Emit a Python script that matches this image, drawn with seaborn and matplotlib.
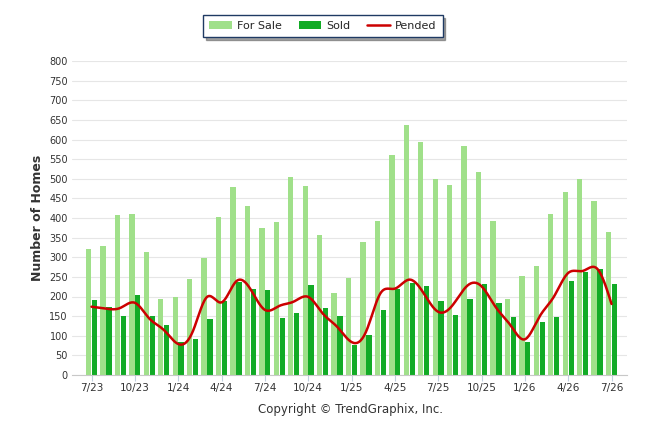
import numpy as np
import pandas as pd
import matplotlib
matplotlib.use("Agg")
import matplotlib.pyplot as plt
import seaborn as sns
from matplotlib.patches import Patch
from matplotlib.lines import Line2D

months = ["7/23", "8/23", "9/23", "10/23", "11/23", "12/23",
          "1/24", "2/24", "3/24", "4/24", "5/24", "6/24",
          "7/24", "8/24", "9/24", "10/24", "11/24", "12/24",
          "1/25", "2/25", "3/25", "4/25", "5/25", "6/25",
          "7/25", "8/25", "9/25", "10/25", "11/25", "12/25",
          "1/26", "2/26", "3/26", "4/26", "5/26", "6/26", "7/26"]

for_sale = [321, 329, 408, 411, 314, 194, 199, 245, 299, 403, 479, 431,
            374, 389, 504, 481, 356, 209, 247, 338, 392, 560, 636, 593,
            499, 483, 584, 517, 392, 193, 252, 277, 410, 466, 499, 443, 364]

sold = [191, 173, 150, 204, 150, 127, 84, 92, 142, 188, 237, 220,
        216, 146, 158, 229, 171, 150, 76, 102, 165, 219, 234, 226,
        188, 153, 193, 232, 183, 148, 84, 135, 148, 239, 262, 270, 232]

pended = [174, 169, 171, 184, 144, 115, 79, 110, 199, 185, 238, 219,
          166, 176, 187, 199, 157, 123, 84, 110, 208, 220, 243, 208,
          161, 178, 227, 226, 172, 127, 91, 148, 199, 260, 265, 271, 181]

tick_labels = ["7/23", "10/23", "1/24", "4/24", "7/24", "10/24", "1/25",
               "4/25", "7/25", "10/25", "1/26", "4/26", "7/26"]

C_SALE = "#a0e08a"
C_SOLD = "#12ab26"
C_PEND = "#cc0000"


def natural_spline(x, y, n=600):
    x = np.asarray(x, float)
    y = np.asarray(y, float)
    k = len(x)
    h = np.diff(x)
    A = np.zeros((k, k))
    r = np.zeros(k)
    A[0, 0] = 1
    A[-1, -1] = 1
    for i in range(1, k - 1):
        A[i, i - 1] = h[i - 1]
        A[i, i] = 2 * (h[i - 1] + h[i])
        A[i, i + 1] = h[i]
        r[i] = 3 * ((y[i + 1] - y[i]) / h[i] - (y[i] - y[i - 1]) / h[i - 1])
    c = np.linalg.solve(A, r)
    b = (y[1:] - y[:-1]) / h - h * (2 * c[:-1] + c[1:]) / 3
    d = (c[1:] - c[:-1]) / (3 * h)
    xs = np.linspace(x[0], x[-1], n)
    idx = np.clip(np.searchsorted(x, xs) - 1, 0, k - 2)
    dx = xs - x[idx]
    ys = y[idx] + b[idx] * dx + c[idx] * dx ** 2 + d[idx] * dx ** 3
    return xs, ys


df = pd.DataFrame({
    "month": months * 2,
    "value": for_sale + sold,
    "series": ["For Sale"] * len(months) + ["Sold"] * len(months),
})

sns.set_theme(style="white")
plt.rcParams["font.family"] = ["DejaVu Sans"]

fig = plt.figure(figsize=(6.46, 4.34), dpi=100)
ax = fig.add_axes([72 / 646, 1 - 375 / 434, (627 - 72) / 646, (375 - 61) / 434])

sns.barplot(data=df, x="month", y="value", hue="series", order=months,
            hue_order=["For Sale", "Sold"], palette=[C_SALE, C_SOLD],
            width=0.82, gap=0.1, ax=ax, legend=False, saturation=1,
            linewidth=0, edgecolor="none")

xs, ys = natural_spline(np.arange(len(months)), pended)
ax.plot(xs, ys, color=C_PEND, lw=1.8, zorder=5)

ax.set_ylim(0, 800)
ax.set_xlim(-1.35, len(months) - 1 + 1.07)
ax.set_yticks(np.arange(0, 801, 50))
ax.yaxis.grid(True, color="#e6e6e6", lw=0.8)
ax.set_axisbelow(True)
ax.tick_params(axis="y", length=0, labelsize=7, labelcolor="#333333", pad=3)

pos = [months.index(t) for t in tick_labels]
ax.set_xticks(pos)
ax.set_xticklabels(tick_labels)
ax.tick_params(axis="x", length=4, width=0.8, color="#c0d0e0", labelsize=7.5,
               labelcolor="#333333", pad=2, direction="out", bottom=True)

for s in ["top", "right", "left"]:
    ax.spines[s].set_visible(False)
ax.spines["bottom"].set_color("#c8c8c8")
ax.spines["bottom"].set_linewidth(0.8)

ax.set_xlabel("")
ax.set_ylabel("Number of Homes", fontsize=9, fontweight="bold", color="#333333",
              labelpad=4)

handles = [Patch(facecolor=C_SALE, edgecolor="none", label="For Sale"),
           Patch(facecolor=C_SOLD, edgecolor="none", label="Sold"),
           Line2D([0], [0], color=C_PEND, lw=1.8, label="Pended")]
leg = fig.legend(handles=handles, loc="center", bbox_to_anchor=(323 / 646, 1 - 26 / 434),
                 ncol=3, frameon=True, fancybox=False, shadow=True, fontsize=8,
                 handlelength=2.0, handleheight=0.7, columnspacing=1.5,
                 borderpad=0.55, handletextpad=0.5)
leg.get_frame().set_edgecolor("#1f3a63")
leg.get_frame().set_linewidth(1.0)

fig.text(350 / 646, 1 - 410 / 434, "Copyright © TrendGraphix, Inc.", ha="center",
         va="center", fontsize=8.5, color="#333333")

fig.savefig("out.png", dpi=100)
